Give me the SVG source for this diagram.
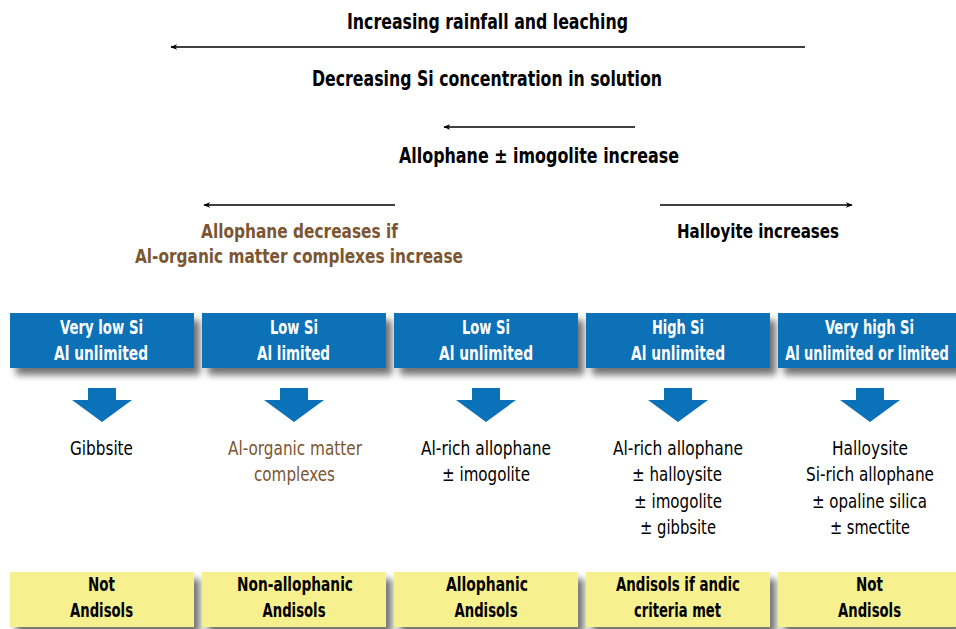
<svg xmlns="http://www.w3.org/2000/svg" width="956" height="629" viewBox="0 0 956 629">
<style>
text{font-family:"DejaVu Sans Condensed","DejaVu Sans","Liberation Sans",sans-serif;font-stretch:condensed;text-anchor:middle}
.h{font-size:22px;font-weight:bold;fill:#000}
.b{font-size:20px;font-weight:bold;fill:#fff}
.y{font-size:20px;font-weight:bold;fill:#000}
.m{font-size:19.5px;fill:#000}
.s{font-size:20px;font-weight:bold}
.br{fill:#7b5631}
.bl{fill:#0b71b8}
.ye{fill:#f7f08f}
.ln{stroke:#000;stroke-width:1.5;fill:none}
</style>
<defs>
<marker id="ah" viewBox="0 0 10 10" refX="9" refY="5" markerWidth="7" markerHeight="7" orient="auto-start-reverse" markerUnits="userSpaceOnUse">
<path d="M0,1 L10,5 L0,9 L3,5 Z" fill="#000"/>
</marker>
<filter id="sh" x="-10%" y="-20%" width="130%" height="160%">
<feGaussianBlur in="SourceAlpha" stdDeviation="3.5"/>
<feOffset dx="6" dy="7" result="o"/>
<feComponentTransfer><feFuncA type="linear" slope="0.55"/></feComponentTransfer>
<feMerge><feMergeNode/><feMergeNode in="SourceGraphic"/></feMerge>
</filter>
<path id="da" d="M-14,0 H14 V12 H30 L0,34 L-30,12 H-14 Z"/>
</defs>

<g id="connectors">
<line class="ln" x1="805" y1="47" x2="171" y2="47" marker-end="url(#ah)"/>
<line class="ln" x1="635" y1="127" x2="444" y2="127" marker-end="url(#ah)"/>
<line class="ln" x1="395" y1="205" x2="204" y2="205" marker-end="url(#ah)"/>
<line class="ln" x1="660" y1="205" x2="852" y2="205" marker-end="url(#ah)"/>
<use href="#da" x="102" y="388" class="bl"/>
<use href="#da" x="294" y="388" class="bl"/>
<use href="#da" x="486" y="388" class="bl"/>
<use href="#da" x="678" y="388" class="bl"/>
<use href="#da" x="870" y="388" class="bl"/>
</g>

<g id="headers">
<text class="h" x="487.5" y="29" textLength="281" lengthAdjust="spacingAndGlyphs">Increasing rainfall and leaching</text>
<text class="h" x="487" y="86" textLength="350" lengthAdjust="spacingAndGlyphs">Decreasing  Si concentration in solution</text>
<text class="h" x="539" y="163" textLength="280" lengthAdjust="spacingAndGlyphs">Allophane ± imogolite increase</text>
<text class="s br" x="299.5" y="238" textLength="197" lengthAdjust="spacingAndGlyphs">Allophane decreases if</text>
<text class="s br" x="299" y="263" textLength="328" lengthAdjust="spacingAndGlyphs">Al-organic matter complexes increase</text>
<text class="s" x="758" y="238" textLength="162" lengthAdjust="spacingAndGlyphs">Halloyite increases</text>
</g>

<g id="n1">
<rect class="bl" x="10" y="313" width="184" height="55" filter="url(#sh)"/>
<text class="b" x="101.5" y="334" textLength="83" lengthAdjust="spacingAndGlyphs">Very low Si</text>
<text class="b" x="101" y="360" textLength="94" lengthAdjust="spacingAndGlyphs">Al unlimited</text>
<text class="m" x="101.5" y="455" textLength="63" lengthAdjust="spacingAndGlyphs">Gibbsite</text>
<rect class="ye" x="10" y="572" width="184" height="55" filter="url(#sh)"/>
<text class="y" x="101.5" y="591" textLength="27" lengthAdjust="spacingAndGlyphs">Not</text>
<text class="y" x="101.5" y="617" textLength="63" lengthAdjust="spacingAndGlyphs">Andisols</text>
</g>
<g id="n2">
<rect class="bl" x="202" y="313" width="184" height="55" filter="url(#sh)"/>
<text class="b" x="294" y="334" textLength="48" lengthAdjust="spacingAndGlyphs">Low Si</text>
<text class="b" x="293.5" y="360" textLength="73" lengthAdjust="spacingAndGlyphs">Al limited</text>
<text class="m br" x="295" y="455" textLength="134" lengthAdjust="spacingAndGlyphs">Al-organic matter</text>
<text class="m br" x="294.5" y="481" textLength="81" lengthAdjust="spacingAndGlyphs">complexes</text>
<rect class="ye" x="202" y="572" width="184" height="55" filter="url(#sh)"/>
<text class="y" x="295" y="591" textLength="116" lengthAdjust="spacingAndGlyphs">Non-allophanic</text>
<text class="y" x="294" y="617" textLength="63" lengthAdjust="spacingAndGlyphs">Andisols</text>
</g>
<g id="n3">
<rect class="bl" x="394" y="313" width="184" height="55" filter="url(#sh)"/>
<text class="b" x="486" y="334" textLength="48" lengthAdjust="spacingAndGlyphs">Low Si</text>
<text class="b" x="486" y="360" textLength="94" lengthAdjust="spacingAndGlyphs">Al unlimited</text>
<text class="m" x="486" y="455" textLength="130" lengthAdjust="spacingAndGlyphs">Al-rich allophane</text>
<text class="m" x="486" y="481" textLength="88" lengthAdjust="spacingAndGlyphs">± imogolite</text>
<rect class="ye" x="394" y="572" width="184" height="55" filter="url(#sh)"/>
<text class="y" x="487" y="591" textLength="82" lengthAdjust="spacingAndGlyphs">Allophanic</text>
<text class="y" x="486" y="617" textLength="63" lengthAdjust="spacingAndGlyphs">Andisols</text>
</g>
<g id="n4">
<rect class="bl" x="586" y="313" width="184" height="55" filter="url(#sh)"/>
<text class="b" x="678" y="334" textLength="52" lengthAdjust="spacingAndGlyphs">High Si</text>
<text class="b" x="678" y="360" textLength="94" lengthAdjust="spacingAndGlyphs">Al unlimited</text>
<text class="m" x="678" y="455" textLength="130" lengthAdjust="spacingAndGlyphs">Al-rich allophane</text>
<text class="m" x="677" y="481" textLength="90" lengthAdjust="spacingAndGlyphs">± halloysite</text>
<text class="m" x="678" y="508" textLength="88" lengthAdjust="spacingAndGlyphs">± imogolite</text>
<text class="m" x="678" y="534" textLength="76" lengthAdjust="spacingAndGlyphs">± gibbsite</text>
<rect class="ye" x="586" y="572" width="184" height="55" filter="url(#sh)"/>
<text class="y" x="678" y="591" textLength="124" lengthAdjust="spacingAndGlyphs">Andisols if andic</text>
<text class="y" x="677.5" y="617" textLength="87" lengthAdjust="spacingAndGlyphs">criteria met</text>
</g>
<g id="n5">
<rect class="bl" x="778" y="313" width="178" height="55" filter="url(#sh)"/>
<text class="b" x="869.5" y="334" textLength="89" lengthAdjust="spacingAndGlyphs">Very high Si</text>
<text class="b" transform="translate(867,360) scale(0.72,1)" x="0" y="0">Al unlimited or limited</text>
<text class="m" x="870" y="455" textLength="76" lengthAdjust="spacingAndGlyphs">Halloysite</text>
<text class="m" x="870" y="481" textLength="128" lengthAdjust="spacingAndGlyphs">Si-rich allophane</text>
<text class="m" x="869.5" y="508" textLength="115" lengthAdjust="spacingAndGlyphs">± opaline silica</text>
<text class="m" x="870" y="534" textLength="80" lengthAdjust="spacingAndGlyphs">± smectite</text>
<rect class="ye" x="778" y="572" width="178" height="55" filter="url(#sh)"/>
<text class="y" x="869.5" y="591" textLength="27" lengthAdjust="spacingAndGlyphs">Not</text>
<text class="y" x="869.5" y="617" textLength="63" lengthAdjust="spacingAndGlyphs">Andisols</text>
</g>
</svg>
